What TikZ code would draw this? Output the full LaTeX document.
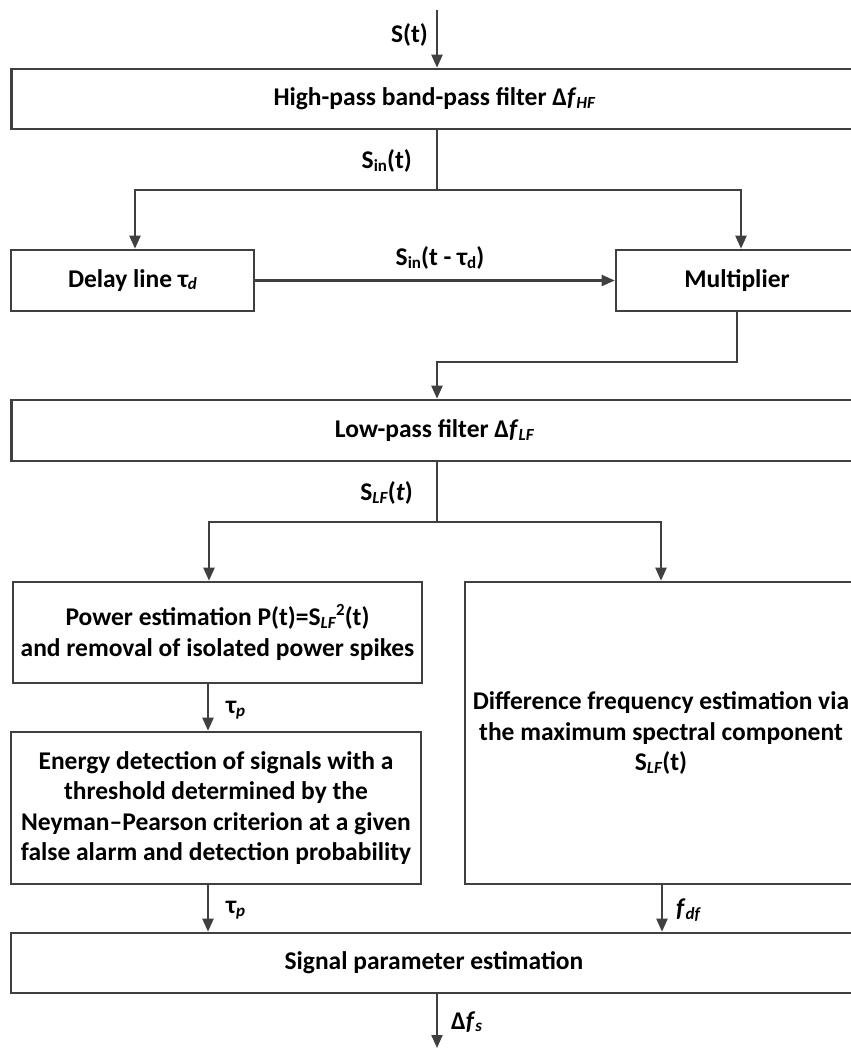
\documentclass[tikz,border=0pt]{standalone}
\usepackage{fontspec}
\setmainfont{Carlito}
\usetikzlibrary{arrows.meta}
\definecolor{lncol}{HTML}{404040}
\newcommand\sbs[1]{\raisebox{-0.1em}{\fontsize{17pt}{17pt}\selectfont #1}}
\newcommand\sps[1]{\raisebox{0.38em}{\fontsize{17pt}{17pt}\selectfont #1}}
\begin{document}
\begin{tikzpicture}[x=1pt,y=-1pt,
  blk/.style={draw=lncol,line width=2.6pt,rectangle,inner sep=0pt,align=center,
    font=\fontsize{25.5pt}{30.5pt}\selectfont\bfseries},
  arr/.style={draw=lncol,line width=2.2pt,-{Triangle[length=13pt,width=11pt]}},
  wire/.style={draw=lncol,line width=2.2pt},
  lbl/.style={font=\fontsize{25.5pt}{30pt}\selectfont\bfseries,inner sep=0pt}]
\useasboundingbox (0,0) rectangle (851,1050);
\clip (0,0) rectangle (851,1050);

% blocks
\node[blk,minimum width=846pt,minimum height=60pt] (hf) at (434.5,99) {High-pass band-pass filter Δ\textit{f}\sbs{\textit{HF}}};
\node[blk,minimum width=243pt,minimum height=61pt] (dl) at (132.5,280.5) {Delay line τ\sbs{\textit{d}}};
\node[blk,minimum width=242pt,minimum height=61pt] (mu) at (737,280.5) {Multiplier};
\node[blk,minimum width=846pt,minimum height=61pt] (lf) at (434.5,430.5) {Low-pass filter Δ\textit{f}\sbs{\textit{LF}}};
\node[blk,minimum width=409pt,minimum height=101pt] (pw) at (217.5,632.5) {Power estimation P(t)=S\sbs{\textit{LF}}\sps{2}(t)\\and removal of isolated power spikes};
\node[blk,minimum width=410pt,minimum height=152pt] (en) at (216,808) {Energy detection of signals with a\\threshold determined by the\\Neyman–Pearson criterion at a given\\false alarm and detection probability};
\node[blk,minimum width=392pt,minimum height=302pt] (df) at (661,733) {Difference frequency estimation via\\the maximum spectral component\\S\sbs{\textit{LF}}(t)};
\node[blk,minimum width=846pt,minimum height=60pt] (sg) at (434,963) {Signal parameter estimation};

% coordinates
\coordinate (s0) at (437,10);
\coordinate (sp1) at (437,190);
\coordinate (sp1l) at (135,190);
\coordinate (sp1r) at (741,190);
\coordinate (m1) at (737,362);
\coordinate (m2) at (437,362);
\coordinate (sp2) at (437,522);
\coordinate (sp2l) at (209,522);
\coordinate (sp2r) at (661,522);
\coordinate (c1) at (208,700);
\coordinate (c2) at (662,900);
\coordinate (c3) at (437,1048);

% connectors
\draw[arr] (s0) -- (s0 |- hf.north);
\draw[wire] (hf.south -| sp1) -- (sp1);
\draw[arr] (sp1) -- (sp1l) -- (sp1l |- dl.north);
\draw[arr] (sp1) -- (sp1r) -- (sp1r |- mu.north);
\draw[arr] (dl.east) -- (mu.west);
\draw[arr] (mu.south) -- (m1) -- (m2) -- (m2 |- lf.north);
\draw[wire] (lf.south -| sp2) -- (sp2);
\draw[arr] (sp2) -- (sp2l) -- (sp2l |- pw.north);
\draw[arr] (sp2) -- (sp2r) -- (sp2r |- df.north);
\draw[arr] (pw.south -| c1) -- (en.north -| c1);
\draw[arr] (en.south -| c1) -- (sg.north -| c1);
\draw[arr] (df.south -| c2) -- (sg.north -| c2);
\draw[arr] (sg.south -| c3) -- (c3);

% labels
\node[lbl,anchor=east] (lS) at (428,35) {S(t)};
\node[lbl,anchor=east] (lSin) at (412,161) {S\sbs{in}(t)};
\node[lbl] (lSd) at (440,258) {S\sbs{in}(t - τ\sbs{d})};
\node[lbl,anchor=east] (lSLF) at (413,493) {S\sbs{\textit{LF}}(\textit{t})};
\node[lbl,anchor=west] (ltp1) at (226,710) {τ\sbs{\textit{p}}};
\node[lbl,anchor=west] (ltp2) at (226,910) {τ\sbs{\textit{p}}};
\node[lbl,anchor=west] (lfdf) at (676,910) {\textit{f}\sbs{\textit{df}}};
\node[lbl,anchor=west] (ldfs) at (451,1022) {Δ\textit{f}\sbs{\textit{s}}};
\end{tikzpicture}
\end{document}
